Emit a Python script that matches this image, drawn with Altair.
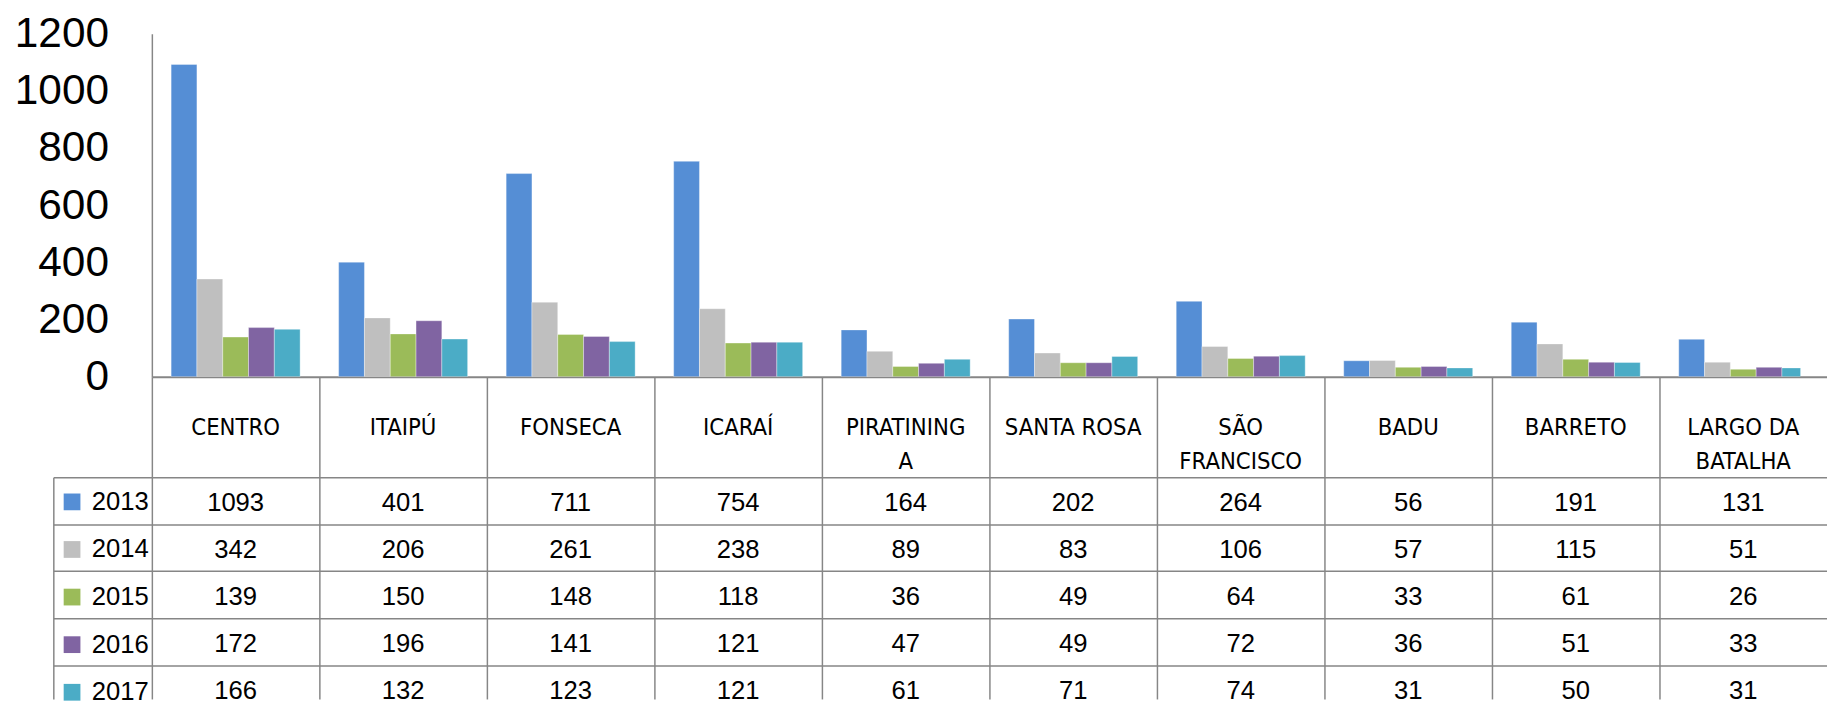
import json
import altair as alt
import pandas as pd

categories = ["CENTRO", "ITAIPÚ", "FONSECA", "ICARAÍ", "PIRATININGA", "SANTA ROSA",
              "SÃO FRANCISCO", "BADU", "BARRETO", "LARGO DA BATALHA"]
header_labels = ["CENTRO", "ITAIPÚ", "FONSECA", "ICARAÍ", "PIRATINING\nA", "SANTA ROSA",
                 "SÃO\nFRANCISCO", "BADU", "BARRETO", "LARGO DA\nBATALHA"]
years = ["2013", "2014", "2015", "2016", "2017"]
v2013 = [1093, 401, 711, 754, 164, 202, 264, 56, 191, 131]
v2014 = [342, 206, 261, 238, 89, 83, 106, 57, 115, 51]
v2015 = [139, 150, 148, 118, 36, 49, 64, 33, 61, 26]
v2016 = [172, 196, 141, 121, 47, 49, 72, 36, 51, 33]
v2017 = [166, 132, 123, 121, 61, 71, 74, 31, 50, 31]
colors = ["#558ED5", "#BFBFBF", "#9BBB59", "#8064A2", "#4BACC6"]
y_ticks = [0, 200, 400, 600, 800, 1000, 1200]

GRID = "#868686"
NUMFONT = "Liberation Sans"
HEADFONT = "'DejaVu Sans Condensed', 'Liberation Sans', sans-serif"

series = [v2013, v2014, v2015, v2016, v2017]
rows = []
for yr, vals in zip(years, series):
    for c, v in zip(categories, vals):
        rows.append({"cat": c, "year": yr, "value": v})
df = pd.DataFrame(rows)
hdf = pd.DataFrame({"cat": categories, "label": header_labels})

FULLW = 1700      # full width of the 10 columns (the last one is cut by the frame)
VISW = 1673       # visible plot width
ROWH = 47.7
TABLEH = 225      # visible height of the table part

bars = alt.Chart(df).mark_bar(clip=True, stroke="white", strokeWidth=0.8,
                              strokeOpacity=0.45).encode(
    x=alt.X("cat:N", sort=categories,
            scale=alt.Scale(paddingInner=0.23, paddingOuter=0.115, range=[0, FULLW]),
            axis=alt.Axis(labels=False, ticks=False, title=None, grid=False, domain=False)),
    xOffset=alt.XOffset("year:N", sort=years,
                        scale=alt.Scale(paddingInner=0, paddingOuter=0)),
    y=alt.Y("value:Q", scale=alt.Scale(domain=[0, 1200], nice=False),
            axis=alt.Axis(values=y_ticks, format="d", title=None, ticks=False,
                          grid=True, gridColor=GRID, gridWidth=2,
                          gridOpacity=alt.condition("datum.value == 0", alt.value(1), alt.value(0)),
                          labelFontSize=43, labelFont=NUMFONT, labelColor="black",
                          labelPadding=44, domainColor=GRID, domainWidth=1.5)),
    color=alt.Color("year:N", sort=years,
                    scale=alt.Scale(domain=years, range=colors),
                    legend=alt.Legend(orient="none", legendX=-94, legendY=462,
                                      direction="vertical", title=None,
                                      symbolType="square", symbolSize=289,
                                      symbolStrokeWidth=0, labelFontSize=26,
                                      labelFont=NUMFONT, labelColor="black",
                                      labelOffset=7, rowPadding=22.3, padding=0)),
).properties(width=VISW, height=348)

# vertical cell borders: grid on band boundaries (the last boundary is outside the frame)
xgrid = alt.Axis(values=categories[:-1], labels=False, ticks=False, domain=False, title=None,
                 grid=True, tickBand="extent", gridColor=GRID, gridWidth=1.5)
xscale = alt.Scale(paddingInner=0, paddingOuter=0, range=[0, FULLW])

header = alt.Chart(hdf).mark_text(
    lineBreak="\n", fontSize=24, font=HEADFONT, lineHeight=35,
    baseline="middle", align="center", color="black", dy=1
).encode(
    x=alt.X("cat:N", sort=categories, scale=xscale, axis=xgrid),
    text="label:N",
).properties(width=VISW, height=102)

row_expr = "indexof(" + json.dumps(years) + ", datum.year) + 0.5"
tscale = alt.Scale(domain=[0, TABLEH / ROWH], reverse=True, nice=False, zero=False)

cells = alt.Chart(df).transform_calculate(row=row_expr).mark_text(
    fontSize=26, font=NUMFONT, color="black", baseline="middle", align="center",
    clip=True, dy=2
).encode(
    x=alt.X("cat:N", sort=categories, scale=xscale, axis=xgrid),
    y=alt.Y("row:Q", scale=tscale,
            axis=alt.Axis(values=[0, 1, 2, 3, 4], labels=False, domain=False, title=None,
                          grid=True, ticks=True, tickSize=100,
                          tickColor=GRID, tickWidth=1.5,
                          gridColor=GRID, gridWidth=1.5)),
    text="value:Q",
)

border = alt.Chart(df).transform_calculate(row=row_expr).mark_point(opacity=0, size=1).encode(
    y=alt.Y("row:Q", scale=tscale,
            axis=alt.Axis(orient="left", offset=100, labels=False, ticks=False, grid=False,
                          title=None, domain=True, domainColor=GRID, domainWidth=1.5)),
)

table = alt.layer(cells, border).resolve_axis(y="independent").properties(
    width=VISW, height=TABLEH)

chart = alt.vconcat(bars, header, table, spacing=0, bounds="flush").resolve_scale(
    x="independent", y="independent"
).configure_view(stroke=None).properties(
    padding={"left": 6, "top": 0, "right": 0, "bottom": 0})

chart.save("out.html", embed_options={"renderer": "svg", "actions": False})
